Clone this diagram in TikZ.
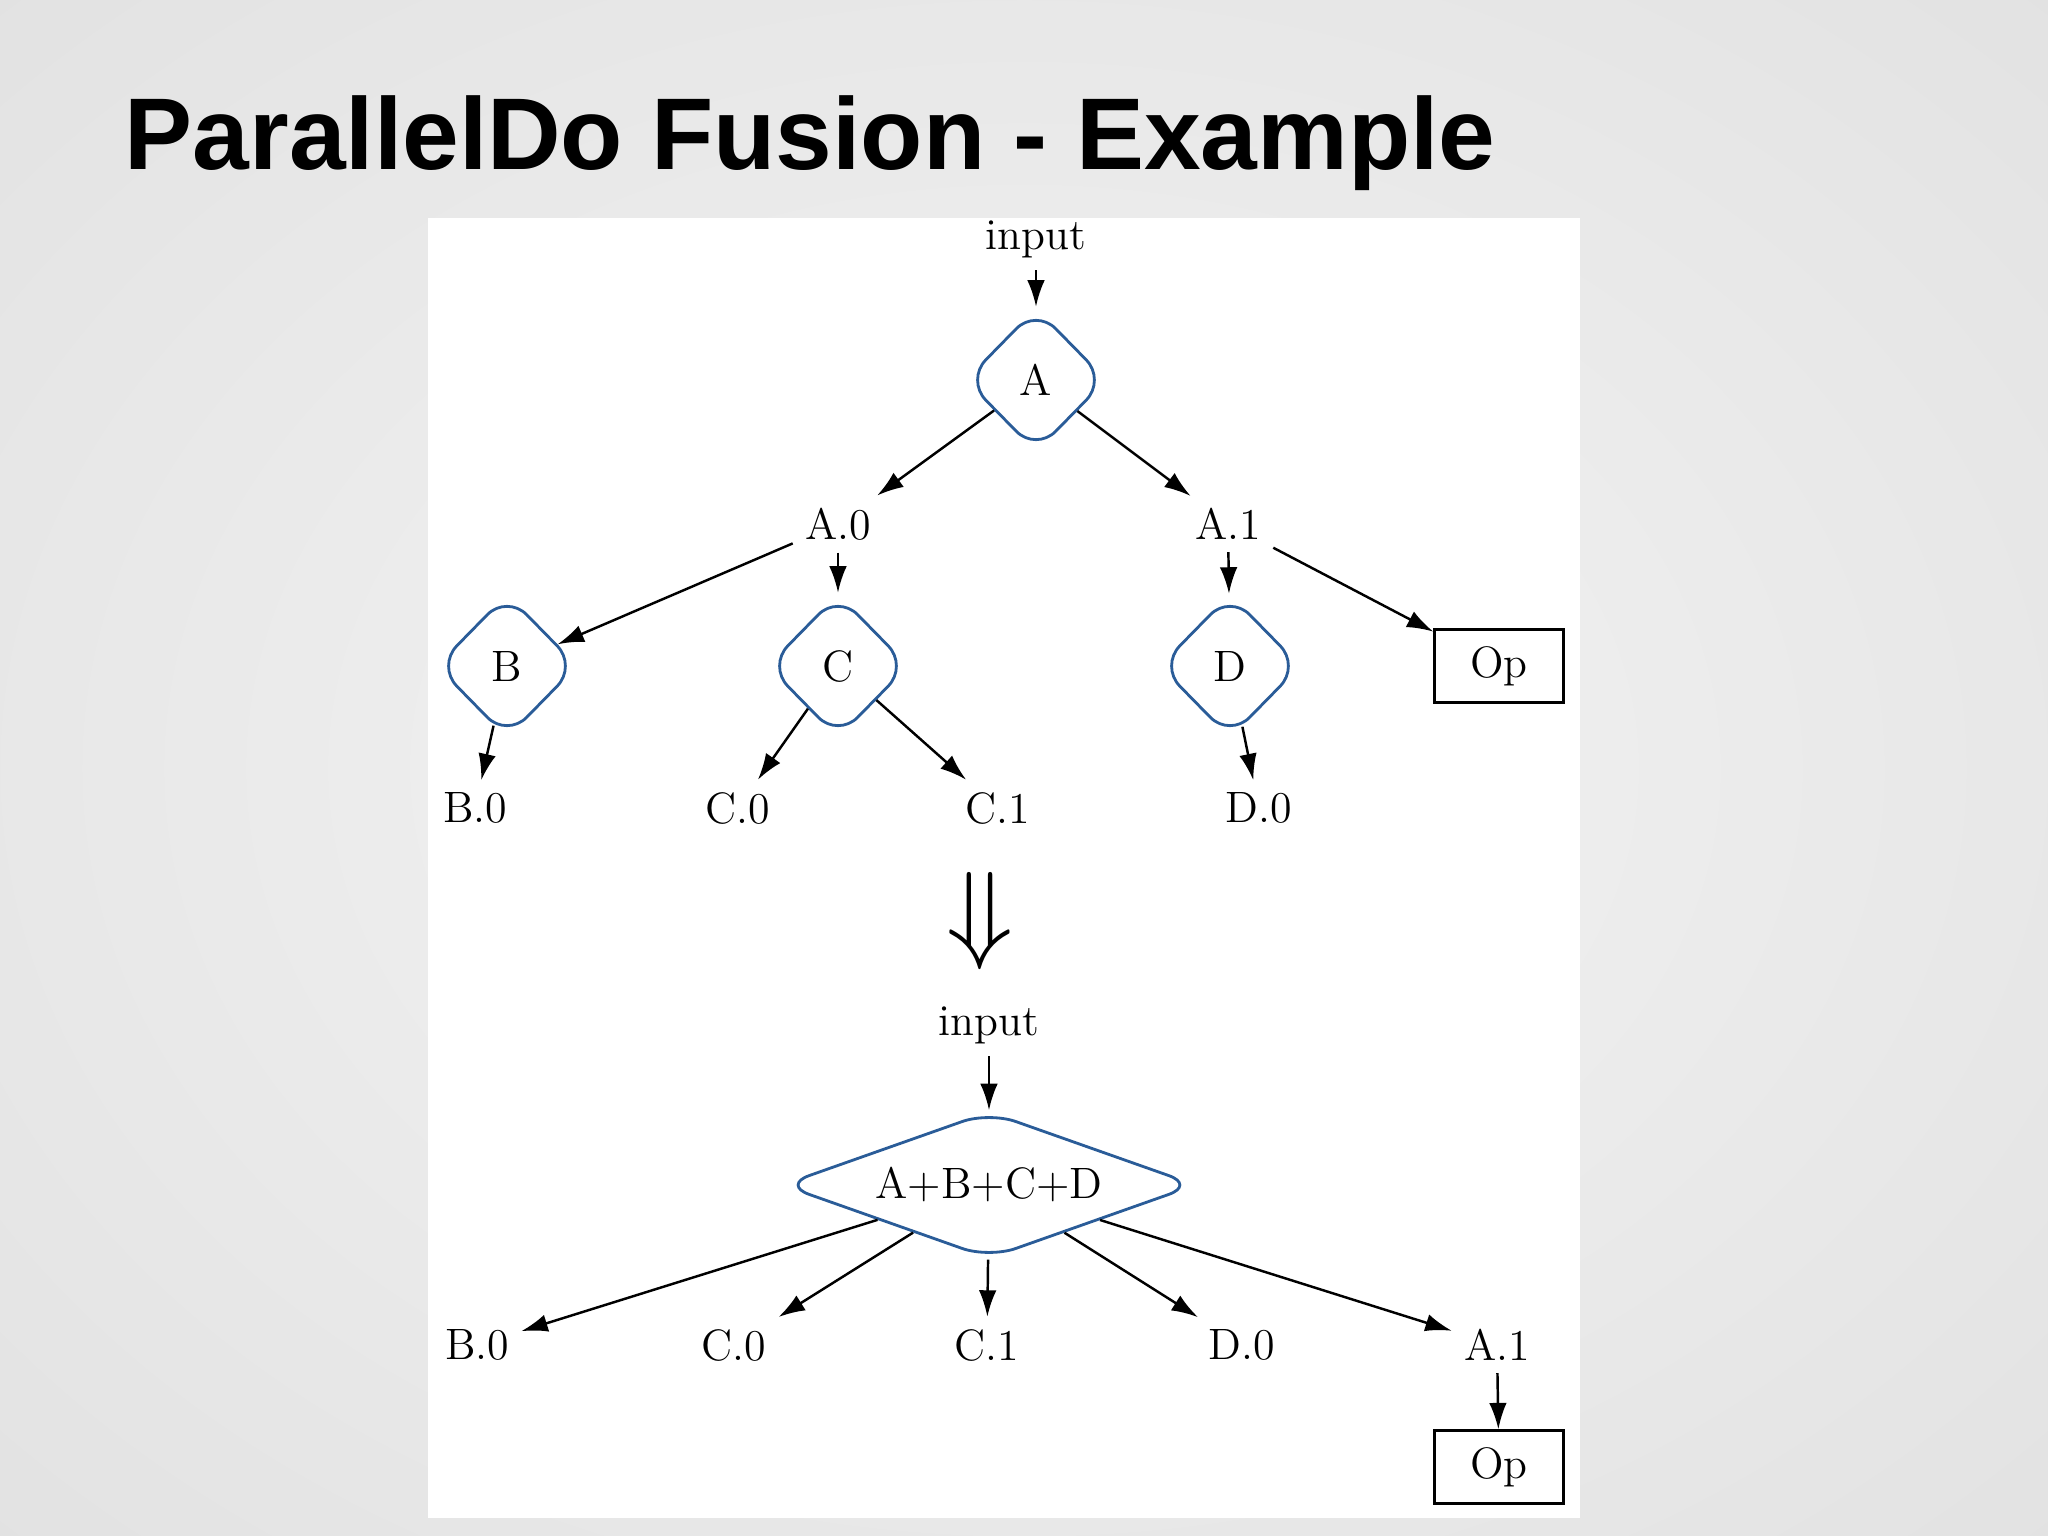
\documentclass[tikz,border=0pt]{standalone}
\usepackage{fontspec}
\usepackage{graphicx}
\newfontfamily\titlefont{Liberation Sans}
\usetikzlibrary{shapes.geometric,arrows.meta}
\definecolor{pdoblue}{RGB}{42,92,152}
\definecolor{bgin}{RGB}{244,244,244}
\definecolor{bgmid}{RGB}{219,219,219}
\definecolor{bgout}{RGB}{206,205,208}
\pgfdeclareradialshading{slidebg}{\pgfpoint{0bp}{0bp}}{color(0bp)=(bgin); color(50bp)=(bgmid); color(71bp)=(bgout)}

\begin{document}
\begin{tikzpicture}[>={Latex[length=7.5pt,width=5pt]},
        every node/.style={font=\fontsize{12.5}{14}\selectfont},
        pdo/.style={diamond,draw=pdoblue,line width=.8pt,rounded corners=8pt,
            minimum width=1.41cm,minimum height=1.44cm,inner sep=0pt},
        opbox/.style={draw,line width=.7pt,minimum width=1.29cm,minimum height=.73cm,inner sep=0pt},
        flow/.style={->,line width=.7pt}]
        % slide
        \shade[shading=slidebg] (0,0) rectangle (20.48,-15.36);
        \fill[white] (4.28,-2.18) rectangle (15.80,-15.18);
        \node[anchor=base west,inner sep=0pt,font=\titlefont\bfseries\fontsize{29}{34}\selectfont]
            (title) at (1.24,-1.70) {ParallelDo Fusion - Example};
        % before fusion
        \node (in1) at (10.36,-2.39) {input};
        \node[pdo] (A) at (10.36,-3.80) {A};
        \node (A0) at (8.38,-5.24) {A.0};
        \node (A1) at (12.28,-5.24) {A.1};
        \node[pdo] (B) at (5.07,-6.66) {B};
        \node[pdo] (C) at (8.38,-6.66) {C};
        \node[pdo] (D) at (12.30,-6.66) {D};
        \node[opbox] (op1) at (14.99,-6.66) {Op};
        \node (B0) at (4.75,-8.08) {B.0};
        \node (C0) at (7.38,-8.08) {C.0};
        \node (C1) at (9.98,-8.08) {C.1};
        \node (D0) at (12.59,-8.08) {D.0};
        \draw[flow] (in1)--(A);
        \draw[flow] (A)--(A0);
        \draw[flow] (A)--(A1);
        \draw[flow] (A0)--(B);
        \draw[flow] (A0)--(C);
        \draw[flow] (A1)--(D);
        \draw[flow] (A1)--(op1);
        \draw[flow] (B)--(B0);
        \draw[flow] (C)--(C0);
        \draw[flow] (C)--(C1);
        \draw[flow] (D)--(D0);
        % fusion
        \node (fuse) at (9.80,-9.21) {\scalebox{2.6}{$\Downarrow$}};
        % after fusion
        \node (in2) at (9.89,-10.25) {input};
        \node[pdo,aspect=2.75,minimum width=4.14cm,minimum height=1.47cm]
            (ABCD) at (9.89,-11.85) {A+B+C+D};
        \node (B0b) at (4.77,-13.45) {B.0};
        \node (C0b) at (7.34,-13.45) {C.0};
        \node (C1b) at (9.87,-13.45) {C.1};
        \node (D0b) at (12.42,-13.45) {D.0};
        \node (A1b) at (14.97,-13.45) {A.1};
        \node[opbox] (op2) at (14.99,-14.67) {Op};
        \draw[flow] (in2)--(ABCD);
        \foreach \t in {B0b,C0b,C1b,D0b,A1b}
        {
            \draw[flow] (ABCD)--(\t);
        }
        \draw[flow] (A1b)--(op2);
    \end{tikzpicture}
\end{document}
